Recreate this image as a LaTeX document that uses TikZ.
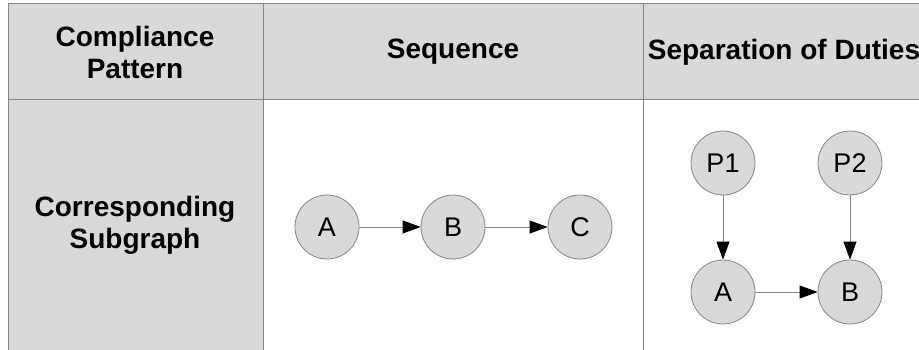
\documentclass[tikz,border=0pt]{standalone}
\usepackage{fontspec}
\setmainfont{Liberation Sans}
\usetikzlibrary{arrows.meta}

\definecolor{cellgray}{HTML}{D9D9D9}
\definecolor{linegray}{HTML}{858585}

\tikzset{
  head/.style={font=\fontsize{28}{32}\selectfont\bfseries, align=center},
  vertex/.style={circle, draw=linegray, fill=cellgray, line width=0.8pt,
    minimum size=64pt, inner sep=0pt, font=\fontsize{27}{30}\selectfont},
  flow/.style={draw=linegray, line width=0.8pt,
    -{Triangle[length=18pt, width=13pt, color=black]}}
}

\begin{document}
\begin{tikzpicture}[x=1pt, y=-1pt]
    \useasboundingbox (0,0) rectangle (919,350);

    % Shaded header row and first column
    \fill[cellgray] (8,4) rectangle (919,100);
    \fill[cellgray] (8,100) rectangle (263,350);

    % Table lines
    \draw[linegray, line width=1pt] (919,4) -- (8,4) -- (8,350);
    \draw[linegray, line width=1pt] (8,100) -- (919,100);
    \draw[linegray, line width=1pt] (263,4) -- (263,350);
    \draw[linegray, line width=1pt] (643,4) -- (643,350);

    % Header texts
    \node[head] (hpattern) at (135,52) {Compliance\\Pattern};
    \node[head] (hseq) at (453,52) {Sequence};
    \node[head] (hsod) at (784,52) {Separation of Duties};
    \node[head] (hsub) at (135,225) {Corresponding\\Subgraph};

    % Sequence subgraph
    \node[vertex] (seqA) at (327,227) {A};
    \node[vertex] (seqB) at (453,227) {B};
    \node[vertex] (seqC) at (580,227) {C};
    \draw[flow] (seqA) -- (seqB);
    \draw[flow] (seqB) -- (seqC);

    % Separation of duties subgraph
    \node[vertex] (sodP1) at (723,163) {P1};
    \node[vertex] (sodP2) at (850,163) {P2};
    \node[vertex] (sodA) at (723,292) {A};
    \node[vertex] (sodB) at (850,292) {B};
    \draw[flow] (sodP1) -- (sodA);
    \draw[flow] (sodP2) -- (sodB);
    \draw[flow] (sodA) -- (sodB);
\end{tikzpicture}
\end{document}
